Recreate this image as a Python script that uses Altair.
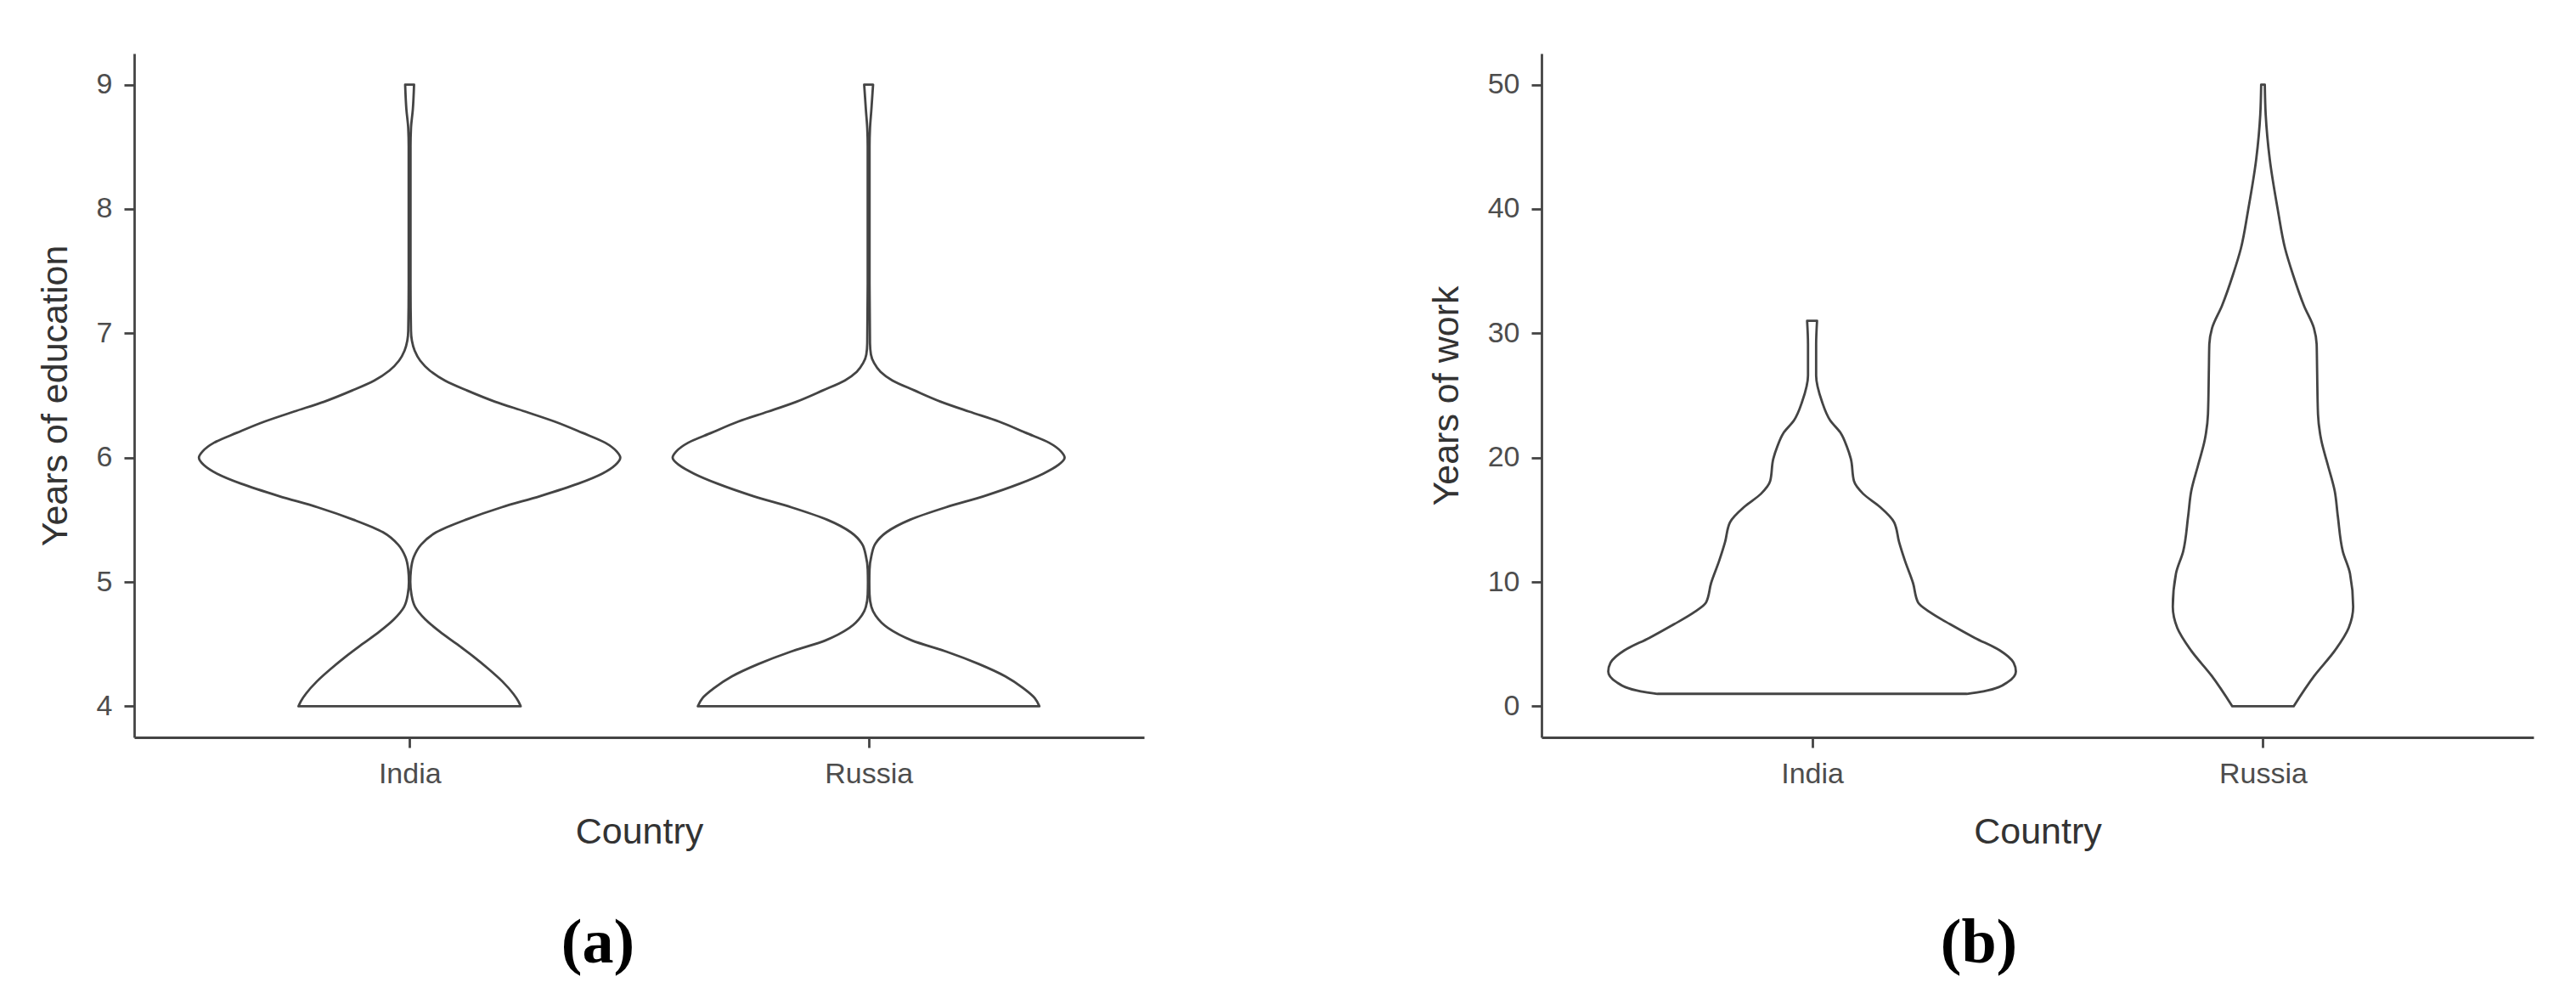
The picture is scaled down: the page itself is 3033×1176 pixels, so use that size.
import altair as alt
import pandas as pd

countries = ["India", "Russia"]
centers = [1, 2]

# Panel (a): Years of education -- violin outlines (y level, half-width in category units)
edu_india_y = [4.00, 4.04, 4.10, 4.20, 4.30, 4.40, 4.50, 4.60, 4.70, 4.80, 4.90, 5.00, 5.10, 5.20,
               5.30, 5.40, 5.50, 5.60, 5.69, 5.79, 5.87, 5.94, 6.00, 6.05, 6.12, 6.20, 6.29,
               6.37, 6.45, 6.54, 6.62, 6.70, 6.78, 6.86, 6.94, 7.02, 7.4, 7.8, 8.2, 8.5, 8.65,
               8.8, 9.0]
edu_india_w = [0.242, 0.237, 0.226, 0.202, 0.172, 0.139, 0.103, 0.066, 0.034, 0.012, 0.004, 0.0015,
               0.003, 0.009, 0.025, 0.058, 0.122, 0.200, 0.284, 0.367, 0.419, 0.448, 0.459, 0.451,
               0.426, 0.376, 0.316, 0.252, 0.186, 0.125, 0.077, 0.044, 0.023, 0.011, 0.005, 0.003,
               0.002, 0.002, 0.002, 0.002, 0.003, 0.007, 0.0097]

edu_russia_y = [4.00, 4.065, 4.145, 4.24, 4.34, 4.44, 4.53, 4.63, 4.73, 4.80, 4.90, 5.00, 5.10,
                5.21, 5.31, 5.40, 5.50, 5.60, 5.69, 5.79, 5.87, 5.94, 6.00, 6.05, 6.12, 6.20,
                6.29, 6.37, 6.45, 6.54, 6.62, 6.69, 6.76, 6.83, 6.92, 7.4, 7.8, 8.2, 8.5, 8.65,
                8.8, 9.0]
edu_russia_w = [0.372, 0.362, 0.337, 0.298, 0.240, 0.169, 0.094, 0.042, 0.015, 0.006, 0.002, 0.0015,
                0.002, 0.006, 0.015, 0.039, 0.090, 0.168, 0.251, 0.329, 0.380, 0.413, 0.427, 0.419,
                0.393, 0.342, 0.284, 0.219, 0.157, 0.100, 0.052, 0.026, 0.012, 0.005, 0.003, 0.002,
                0.002, 0.002, 0.002, 0.003, 0.006, 0.0097]

# Panel (b): Years of work
work_india_y = [1.0, 1.2, 1.95, 2.8, 3.5, 4.5, 5.5, 6.6, 7.6, 8.36, 9.9, 11.7, 13.2, 14.8, 16.05,
                17.1, 18.1, 19.9, 20.9, 21.95, 23.0, 24.5, 26.6, 29.1, 31.0]
work_india_w = [0.343, 0.380, 0.434, 0.452, 0.447, 0.416, 0.361, 0.306, 0.260, 0.235, 0.224, 0.206,
                0.193, 0.182, 0.150, 0.113, 0.093, 0.086, 0.077, 0.064, 0.040, 0.022, 0.009, 0.009,
                0.011]

work_russia_y = [0.0, 2.46, 4.51, 6.3, 8.0, 10.67, 12.46, 15.28, 17.33, 19.38, 21.44, 23.49, 27.08,
                 29.13, 30.41, 32.21, 34.77, 36.82, 39.9, 44.0, 47.59, 50.0]
work_russia_w = [0.068, 0.114, 0.160, 0.190, 0.200, 0.193, 0.177, 0.166, 0.159, 0.144, 0.129, 0.122,
                 0.120, 0.119, 0.113, 0.091, 0.066, 0.049, 0.033, 0.015, 0.006, 0.004]

edu_ticks = [4, 5, 6, 7, 8, 9]
work_ticks = [0, 10, 20, 30, 40, 50]
panel_labels = ["(a)", "(b)"]

LINE = "#444444"
AXIS = "#444444"
FONT = "Liberation Sans"


def violin_frame(ys_list, ws_list):
    rows = []
    for name, c, ys, ws in zip(countries, centers, ys_list, ws_list):
        for y, w in zip(ys, ws):
            rows.append({"country": name, "y": y, "lo": c - w, "hi": c + w})
    return pd.DataFrame(rows)


def panel(df, ydomain, yticks, ytitle, width, label, label_x):
    xscale = alt.Scale(domain=[0.4, 2.6], nice=False, zero=False)
    yscale = alt.Scale(domain=ydomain, nice=False, zero=False)
    xaxis = alt.Axis(values=[1, 2], title="Country",
                     labelExpr="datum.value == 1 ? 'India' : 'Russia'")
    yaxis = alt.Axis(values=yticks, title=ytitle, format="d")
    vio = alt.Chart(df).mark_area(
        orient="horizontal", interpolate="monotone", fill="white", fillOpacity=1,
        stroke=LINE, strokeWidth=2.8, strokeJoin="round"
    ).encode(
        y=alt.Y("y:Q", scale=yscale, axis=yaxis),
        x=alt.X("lo:Q", scale=xscale, axis=xaxis),
        x2="hi:Q",
        detail="country:N",
    )
    lab = alt.Chart(pd.DataFrame({"t": [label]})).mark_text(
        font="Liberation Serif", fontWeight="bold", fontSize=74, color="black",
        align="center", baseline="middle"
    ).encode(text="t:N", x=alt.value(label_x), y=alt.value(1048))
    return alt.layer(vio, lab).properties(width=width, height=805)


pa = panel(violin_frame([edu_india_y, edu_russia_y], [edu_india_w, edu_russia_w]),
           [3.75, 9.25], edu_ticks, "Years of education", 1189, panel_labels[0], 546)
pb = panel(violin_frame([work_india_y, work_russia_y], [work_india_w, work_russia_w]),
           [-2.5, 52.5], work_ticks, "Years of work", 1168, panel_labels[1], 515)

chart = alt.hconcat(pa, pb, spacing=335).properties(
    padding={"left": 36, "top": 55, "right": 10, "bottom": 10},
    background="white",
).configure_view(stroke=None).configure_axis(
    grid=False,
    domainColor=AXIS, domainWidth=2.8,
    tickColor=AXIS, tickWidth=2.8, tickSize=12,
    labelFont=FONT, labelFontSize=34, labelColor="#4d4d4d", labelPadding=14,
    titleFont=FONT, titleFontSize=43, titleFontWeight="normal", titleColor="#333333",
    titlePadding=26,
).configure_axisX(titlePadding=30, labelPadding=14)

chart.save("out.html", embed_options={"renderer": "svg", "actions": False})
